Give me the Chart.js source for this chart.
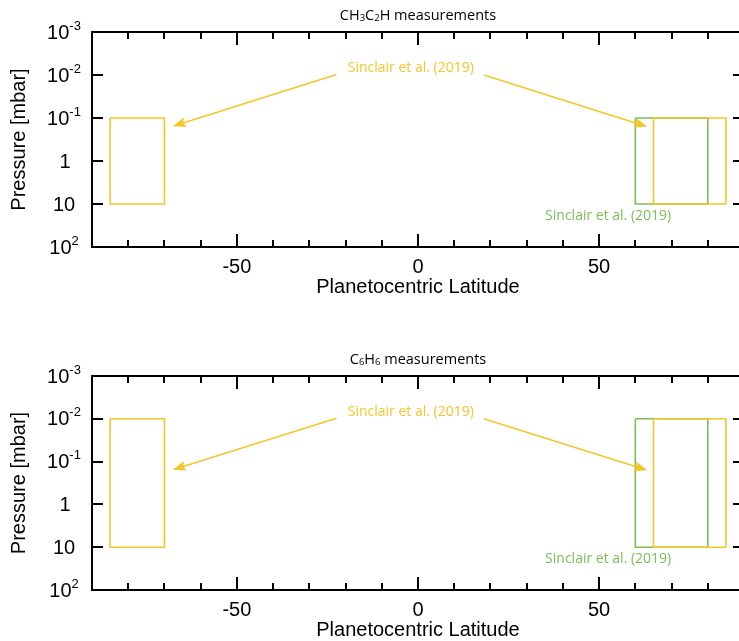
<!DOCTYPE html>
<html>
<head>
<meta charset="utf-8">
<script src="https://cdn.jsdelivr.net/npm/chart.js@4/dist/chart.umd.min.js"></script>
<style>
  html, body { margin: 0; padding: 0; background: #fff; overflow: hidden; }
  #wrap { position: relative; width: 739px; height: 641px; overflow: hidden; }
  canvas { position: absolute; left: 0; }
  #top { top: 0; }
  #bottom { top: 320px; }
</style>
</head>
<body>
<div id="wrap">
  <canvas id="top" width="750" height="320"></canvas>
  <canvas id="bottom" width="750" height="321"></canvas>
</div>
<script>
// latitude bounds of each measurement box (degrees)
const yellowSouthLat = [-85, -70];
const yellowNorthLat = [65, 85];
const greenNorthLat = [60, 80];

// pressure bounds (mbar)
const ch3c2hPressure = [0.1, 10];
const c6h6Pressure = [0.01, 10];

// axis ticks
const latTicks = [-50, 0, 50];
const pressureDecades = [-3, -2, -1, 0, 1, 2];

// annotation anchors [lat, pressure]
const yellowLabelAt = [-2, 0.007];
const greenLabelAt = [52.5, 19];
const arrowSouth = [[-22.5, 0.0097], [-67.7, 0.155]];
const arrowNorth = [[18.2, 0.0100], [63.3, 0.160]];

const refText = 'Sinclair et al. (2019)';
const YELLOW = '#f3c629';
const GREEN = '#7cbd57';

function box(lat, p) {
  return [
    { x: lat[0], y: p[0] }, { x: lat[1], y: p[0] },
    { x: lat[1], y: p[1] }, { x: lat[0], y: p[1] },
    { x: lat[0], y: p[0] }
  ];
}

function drawRich(ctx, parts, x, y, align) {
  // parts: [text, size, dy, family]
  let w = 0;
  parts.forEach(p => { ctx.font = p[1] + 'px ' + p[3]; w += ctx.measureText(p[0]).width; });
  let cx = align === 'center' ? x - w / 2 : x;
  ctx.textAlign = 'left';
  parts.forEach(p => {
    ctx.font = p[1] + 'px ' + p[3];
    ctx.fillText(p[0], cx, y + p[2]);
    cx += ctx.measureText(p[0]).width;
  });
}

function arrow(ctx, x0, y0, x1, y1) {
  const a = Math.atan2(y1 - y0, x1 - x0);
  const len = 13, half = 5;
  const bx = x1 - len * Math.cos(a), by = y1 - len * Math.sin(a);
  ctx.beginPath();
  ctx.moveTo(x0, y0);
  ctx.lineTo(bx + 3 * Math.cos(a), by + 3 * Math.sin(a));
  ctx.stroke();
  ctx.beginPath();
  ctx.moveTo(x1, y1);
  ctx.lineTo(bx - half * Math.sin(a), by + half * Math.cos(a));
  ctx.lineTo(bx + 2 * Math.cos(a), by + 2 * Math.sin(a));
  ctx.lineTo(bx + half * Math.sin(a), by - half * Math.cos(a));
  ctx.closePath();
  ctx.fill();
}

const framePlugin = {
  id: 'frame',
  afterDraw(chart, args, opts) {
    const ctx = chart.ctx;
    const a = chart.chartArea;
    const xs = chart.scales.x, ys = chart.scales.y;
    const HEL = '"Liberation Sans", Arial, sans-serif';
    const MYR = '"Open Sans", "Noto Sans", sans-serif';
    ctx.save();
    ctx.strokeStyle = '#000';
    ctx.fillStyle = '#000';
    ctx.lineWidth = 2;
    ctx.strokeRect(a.left, a.top, a.right - a.left, a.bottom - a.top);

    // x ticks, inward on bottom and top
    ctx.beginPath();
    for (let v = -80; v <= 80; v += 10) {
      const px = Math.round(xs.getPixelForValue(v));
      const l = v % 50 === 0 ? 13 : 7;
      ctx.moveTo(px, a.bottom); ctx.lineTo(px, a.bottom - l);
      ctx.moveTo(px, a.top); ctx.lineTo(px, a.top + l);
    }
    // y ticks at decades, left and right
    pressureDecades.forEach(d => {
      const py = Math.round(ys.getPixelForValue(Math.pow(10, d)));
      ctx.moveTo(a.left, py); ctx.lineTo(a.left + 11, py);
      ctx.moveTo(a.right, py); ctx.lineTo(a.right - 11, py);
    });
    ctx.stroke();

    // x tick labels
    ctx.textBaseline = 'middle';
    ctx.textAlign = 'center';
    ctx.font = '20px ' + HEL;
    latTicks.forEach(v => ctx.fillText(String(v), xs.getPixelForValue(v), a.bottom + 20));

    // y tick labels
    pressureDecades.forEach(d => {
      const py = ys.getPixelForValue(Math.pow(10, d)) + 1;
      if (d === 0) drawRich(ctx, [['1', 20, 0, HEL]], 65, py, 'center');
      else if (d === 1) drawRich(ctx, [['10', 20, 0, HEL]], 64, py, 'center');
      else drawRich(ctx, [['10', 20, 0, HEL], [String(d), 13, -7, HEL]], 64, py, 'center');
    });

    // axis titles
    ctx.font = '20px ' + HEL;
    ctx.textAlign = 'center';
    ctx.fillText('Planetocentric Latitude', (xs.getPixelForValue(0)), a.bottom + 40);
    ctx.save();
    ctx.translate(19, (a.top + a.bottom) / 2);
    ctx.rotate(-Math.PI / 2);
    ctx.fillText('Pressure [mbar]', 0, 0);
    ctx.restore();

    // chart title
    drawRich(ctx, opts.title.map(t => [t[0], t[1], t[2], MYR]), xs.getPixelForValue(0), a.top - 16, 'center');

    // annotations
    ctx.font = '14px ' + MYR;
    ctx.textAlign = 'center';
    ctx.fillStyle = YELLOW;
    ctx.fillText(refText, xs.getPixelForValue(yellowLabelAt[0]), ys.getPixelForValue(yellowLabelAt[1]));
    ctx.fillStyle = GREEN;
    ctx.fillText(refText, xs.getPixelForValue(greenLabelAt[0]), ys.getPixelForValue(greenLabelAt[1]));

    ctx.strokeStyle = YELLOW;
    ctx.fillStyle = YELLOW;
    ctx.lineWidth = 1.5;
    [arrowSouth, arrowNorth].forEach(ar => {
      arrow(ctx,
        xs.getPixelForValue(ar[0][0]), ys.getPixelForValue(ar[0][1]),
        xs.getPixelForValue(ar[1][0]), ys.getPixelForValue(ar[1][1]));
    });
    ctx.restore();
  }
};

function makeChart(id, pressure, title, padding) {
  const ctx = document.getElementById(id).getContext('2d');
  return new Chart(ctx, {
    type: 'line',
    data: {
      datasets: [
        { label: 'Sinclair et al. (2019) south', data: box(yellowSouthLat, pressure), borderColor: YELLOW },
        { label: 'Sinclair et al. (2019) north', data: box(yellowNorthLat, pressure), borderColor: YELLOW },
        { label: 'Sinclair et al. (2019) green', data: box(greenNorthLat, pressure), borderColor: GREEN }
      ].map(d => Object.assign(d, { borderWidth: 1.6, pointRadius: 0, fill: false, tension: 0 }))
    },
    options: {
      responsive: false,
      animation: false,
      layout: { padding: padding },
      plugins: {
        legend: { display: false },
        tooltip: { enabled: false },
        frame: { title: title }
      },
      scales: {
        x: { type: 'linear', min: -90, max: 90, display: false },
        y: { type: 'logarithmic', min: 1e-3, max: 1e2, reverse: true, display: false }
      }
    },
    plugins: [framePlugin]
  });
}

makeChart('top', ch3c2hPressure,
  [['CH', 14.5, 0], ['3', 9.5, 2], ['C', 14.5, 0], ['2', 9.5, 2], ['H measurements', 14.5, 0]],
  { left: 92, top: 32, right: 6, bottom: 73 });
makeChart('bottom', c6h6Pressure,
  [['C', 14.5, 0], ['6', 9.5, 2], ['H', 14.5, 0], ['6', 9.5, 2], [' measurements', 14.5, 0]],
  { left: 92, top: 56, right: 6, bottom: 51 });
</script>
</body>
</html>
